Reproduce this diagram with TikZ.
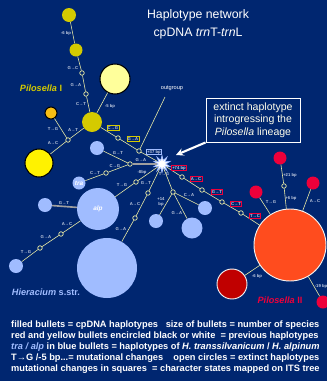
\documentclass[tikz,border=0pt]{standalone}
\usepackage{fontspec}
\setmainfont{Liberation Sans}
\usetikzlibrary{shapes.geometric}
\definecolor{navy}{RGB}{0,38,112}
\definecolor{edgecol}{RGB}{235,235,165}
\definecolor{mutcol}{RGB}{195,205,225}
\definecolor{oliveyel}{RGB}{212,202,0}
\definecolor{paleyel}{RGB}{255,255,155}
\definecolor{ambercol}{RGB}{248,190,20}
\definecolor{hierblue}{RGB}{160,188,255}
\definecolor{pilred}{RGB}{238,0,58}
\definecolor{pilorange}{RGB}{255,76,30}
\definecolor{darkred}{RGB}{192,0,0}
\newlength\pxu
\setlength\pxu{0.03cm}
\newcommand\mutfont{\fontsize{3.6}{4}\selectfont\bfseries}
\tikzstyle{hap} = [circle, inner sep=0pt]
\tikzstyle{oldhap} = [hap, draw=black, line width=0.9pt]
\tikzstyle{oldhapw} = [hap, draw=white!90!gray, line width=0.8pt]
\tikzstyle{ext} = [circle, inner sep=0pt, minimum size=4.5\pxu, draw=edgecol, fill=navy, line width=0.6pt]
\tikzstyle{link} = [draw=edgecol, line width=0.5pt]
\tikzstyle{greylink} = [draw=gray!75, line width=1.4pt]
\tikzstyle{mut} = [font=\mutfont, text=mutcol, inner sep=0.6pt]
\tikzstyle{olivebox} = [mut, draw=oliveyel, line width=0.6pt]
\tikzstyle{bluebox} = [mut, draw=hierblue, line width=0.6pt]
\tikzstyle{redbox} = [mut, draw=pilred, line width=0.6pt]
\tikzstyle{group} = [font=\fontsize{7.8}{9}\selectfont\bfseries]
\tikzstyle{arrow} = [->,>=stealth]

\begin{document}
\begin{tikzpicture}[x=0.03cm, y=-0.03cm]
        \fill[navy] (0,0) rectangle (327,381);
        \useasboundingbox (0,0) rectangle (327,381);

        % title and callout
        \node[white, align=center, font=\fontsize{10.5}{15.3}\selectfont] (title) at (198,24) {Haplotype network\\cpDNA \textit{trn}T-\textit{trn}L};
        \node[draw=white, line width=0.8pt, text=white!92!yellow, align=center, font=\fontsize{9}{10.6}\selectfont, minimum width=94\pxu, minimum height=44\pxu, inner sep=1pt] (callout) at (253,120) {extinct haplotype\\introgressing the\\\textit{Pilosella} lineage};
        \coordinate (tip) at (176,155);
        \draw[arrow, white, line width=1.8pt] (callout.south west) -- (tip);

        % ancestral extinct haplotype
        \node[star, star points=10, star point ratio=2.2, minimum size=17\pxu, inner sep=0pt, fill=white, draw=hierblue, line width=0.6pt] (anc) at (162,164) {};

        % Pilosella I
        \node[hap, fill=oliveyel, minimum size=14\pxu] (y1) at (69,15) {};
        \node[hap, fill=oliveyel, minimum size=13\pxu] (y2) at (76,50) {};
        \node[ext] (e1) at (82,73) {};
        \node[ext] (e2) at (86,94) {};
        \node[hap, fill=oliveyel, minimum size=20\pxu] (y3) at (92,122) {};
        \node[oldhap, fill=paleyel, minimum size=30\pxu] (y4) at (115,79) {};
        \node[oldhap, fill=ambercol, minimum size=12\pxu] (y5) at (51,113) {};
        \node[ext] (e3) at (68,140) {};
        \node[oldhap, fill=yellow, minimum size=28\pxu] (y6) at (39,163) {};
        \node[ext] (e4) at (118,138) {};
        \node[ext] (e5) at (139,151) {};
        \coordinate (og) at (165,97);
        \node[white, font=\fontsize{4.8}{5}\selectfont] (outgroup) at (172,88) {outgroup};
        \node[group, text=oliveyel] (pilI) at (41,88) {\textit{Pilosella} I};

        \draw[link] (y1) -- (y2) node[mut] at (66,33) {-6 bp};
        \draw[link] (y2) -- (e1) node[mut] at (73,68) {G→C};
        \draw[link] (e1) -- (e2) node[mut] at (76,85) {G→A};
        \draw[link] (e2) -- (y3) node[mut] at (81,104) {C→T};
        \draw[link] (y4) -- (y3) node[mut] at (110,106) {-5 bp};
        \draw[link] (y5) -- (e3) node[mut] at (53,129) {T→G};
        \draw[link] (y3) -- (e3) node[mut] at (73,130) {A→T};
        \draw[link] (e3) -- (y6) node[mut] at (53,143) {A→C};
        \draw[link] (y3) -- (e4) node[olivebox] at (113,128) {C→G};
        \draw[link] (e4) -- (e5) node[olivebox] at (133,139) {G→A};
        \draw[link] (e5) -- (og);
        \draw[link] (e5) -- (anc) node[bluebox] at (154,152) {+37 bp};

        % Hieracium s.str.
        \node[hap, fill=hierblue, minimum size=14\pxu] (b1) at (97,148) {};
        \node[ext] (e6) at (130,164) {};
        \node[ext] (e7) at (106,173) {};
        \node[hap, fill=hierblue, minimum size=13\pxu, text=white, font=\fontsize{5.5}{6}\selectfont\bfseries\itshape] (tra) at (79,183) {tra};
        \node[hap, fill=hierblue, minimum size=42\pxu, text=white, font=\fontsize{5.5}{6}\selectfont\bfseries\itshape] (alp) at (98,209) {alp};
        \node[hap, fill=hierblue, minimum size=14\pxu] (b2) at (45,205) {};
        \node[ext] (e8) at (61,234) {};
        \node[ext] (e9) at (40,248) {};
        \node[hap, fill=hierblue, minimum size=14\pxu] (b3) at (16,266) {};
        \node[ext] (e10) at (136,182) {};
        \node[ext] (e11) at (148,193) {};
        \node[ext] (e12) at (135,218) {};
        \node[hap, fill=hierblue, minimum size=60\pxu] (b4) at (107,268) {};
        \node[ext] (e13) at (173,192) {};
        \node[hap, fill=hierblue, minimum size=14\pxu] (b5) at (205,208) {};
        \node[hap, fill=hierblue, minimum size=14\pxu] (b6) at (156,221) {};
        \node[hap, fill=hierblue, minimum size=21\pxu] (b7) at (192,228) {};
        \node[group, text=hierblue] (hier) at (46,292) {\textit{Hieracium} s.str.};

        \draw[link] (b1) -- (e6) node[mut] at (118,153) {G→T};
        \draw[greylink] (e6) -- (anc) node[mut] at (141,160) {G→A};
        \draw[link] (e6) -- (e7) node[mut] at (115,166) {C→G};
        \draw[link] (e7) -- (tra) node[mut] at (95,173) {C→T};
        \draw[link] (anc) -- (e10) node[mut] at (142,172) {-8bp};
        \draw[link] (e10) -- (alp) node[mut] at (122,185) {T→G};
        \draw[greylink] (alp) -- (b2) node[mut] at (64,203) {G→T};
        \draw[link] (alp) -- (e8) node[mut] at (67,224) {A→C};
        \draw[link] (e8) -- (e9) node[mut] at (46,237) {G→A};
        \draw[link] (e9) -- (b3) node[mut] at (26,252) {T→G};
        \draw[link] (anc) -- (e11) node[mut] at (146,183) {G→T};
        \draw[link] (e11) -- (e12) node[mut] at (135,204) {A→C};
        \draw[link] (e12) -- (b4) node[mut] at (121,229) {G→A};
        \draw[link] (anc) -- (e13) node[mut] at (164,174) {T→G};
        \draw[link] (e13) -- (b5) node[mut] at (189,195) {C→A};
        \draw[link] (e13) -- (b6) node[mut, align=center] at (161,202) {+14\\bp};
        \draw[link] (e13) -- (b7) node[mut] at (177,213) {G→A};

        % Pilosella II
        \node[ext] (e14) at (182,177) {};
        \node[ext] (e15) at (202,190) {};
        \node[ext] (e16) at (222,202) {};
        \node[ext] (e17) at (241,213) {};
        \node[oldhapw, fill=pilorange, minimum size=72\pxu] (o1) at (290,245) {};
        \node[hap, fill=pilred, minimum size=13\pxu] (r1) at (280,158) {};
        \node[ext] (e18) at (284,186) {};
        \node[hap, fill=pilred, minimum size=13\pxu] (r2) at (256,192) {};
        \node[hap, fill=pilred, minimum size=13\pxu] (r3) at (313,183) {};
        \node[hap, fill=pilred, minimum size=13\pxu] (r4) at (323,302) {};
        \node[oldhapw, fill=darkred, minimum size=30\pxu] (dr) at (232,284) {};
        \node[group, text=pilred] (pilII) at (280,300) {\textit{Pilosella} II};

        \draw[link] (anc) -- (e14) node[redbox] at (179,168) {+74 bp};
        \draw[link] (e14) -- (e15) node[redbox] at (196,179) {A→C};
        \draw[link] (e15) -- (e16) node[redbox] at (217,192) {G→T};
        \draw[link] (e16) -- (e17) node[redbox] at (236,204) {C→T};
        \draw[link] (e17) -- (o1) node[redbox] at (255,216) {T→C};
        \draw[link] (r1) -- (e18) node[mut] at (290,175) {+21 bp};
        \draw[link] (e18) -- (o1) node[mut] at (291,198) {+6 bp};
        \draw[link] (r2) -- (o1) node[mut] at (271,202) {T→G};
        \draw[link] (r3) -- (o1) node[mut] at (315,201) {A→C};
        \draw[link] (o1) -- (r4) node[mut] at (321,286) {-19 bp};
        \draw[link] (dr) -- (o1) node[mut] at (257,276) {-6 bp};

        % legend
        \node[anchor=north west, align=left, text=white, inner sep=0pt, font=\fontsize{7.9}{9.4}\selectfont\bfseries] (legend) at (11,321) {filled bullets = cpDNA haplotypes \ \ size of bullets = number of species\\
red and yellow bullets encircled black or white \ = previous haplotypes\\
{\color{hierblue}\itshape tra / alp} in blue bullets = haplotypes of \textit{H. transsilvanicum} / \textit{H. alpinum}\\
T→G /-5 bp...= mutational changes \ \ \ open circles = extinct haplotypes\\
mutational changes in squares \ = character states mapped on ITS tree};
    \end{tikzpicture}
\end{document}
